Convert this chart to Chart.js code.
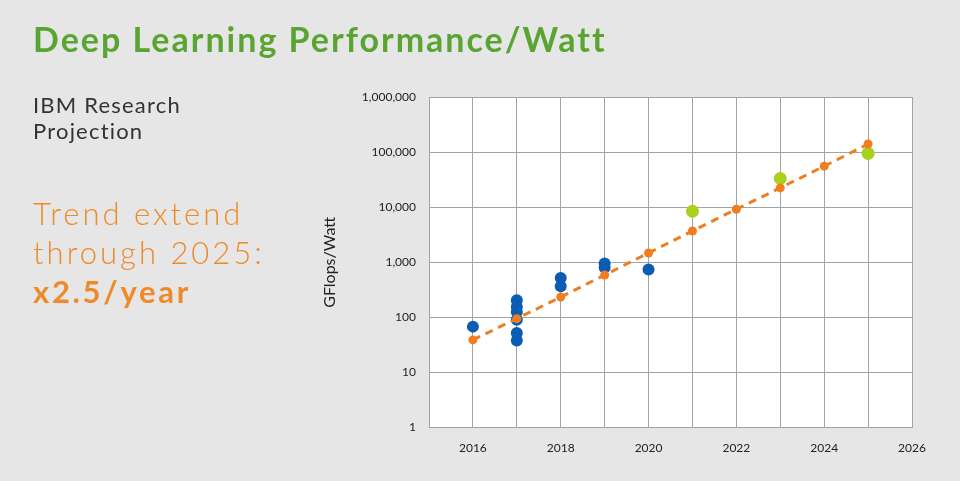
<!DOCTYPE html>
<html>
<head>
<meta charset="utf-8">
<script src="https://cdn.jsdelivr.net/npm/chart.js@4"></script>
<style>
  body { margin: 0; background: #e6e6e6; font-family: Lato, "Open Sans", sans-serif; }
  #wrap { position: relative; width: 960px; height: 481px; overflow: hidden; }
  #chartBox { position: absolute; left: 0; top: 0; width: 960px; height: 481px; }
  .txt { position: absolute; left: 33px; white-space: nowrap; }
  #title { top: 18px; font-size: 34px; font-weight: 700; color: #5aa532; letter-spacing: 2px; }
  #sub { top: 92px; font-size: 22px; line-height: 26px; color: #333; letter-spacing: 1.2px; }
  #trend { top: 194px; font-size: 31px; line-height: 39px; color: #ee8a2a; font-weight: 300; letter-spacing: 3px; }
  #trend b { font-weight: 700; letter-spacing: 2.7px; }
</style>
</head>
<body>
<div id="wrap">
  <div id="chartBox"><canvas id="perfChart"></canvas></div>
  <div class="txt" id="title">Deep Learning Performance/Watt</div>
  <div class="txt" id="sub">IBM Research<br>Projection</div>
  <div class="txt" id="trend">Trend extend<br>through 2025:<br><b>x2.5/year</b></div>
</div>
<script>
// measured chips (blue)
const blueYears = [2016, 2017, 2017, 2017, 2017, 2017, 2017, 2018, 2018, 2019, 2019, 2020];
const blueValues = [68, 204, 154, 125, 91, 52, 38, 518, 366, 947, 801, 737];

// projected trend (orange, x2.5/year)
const trendYears = [2016, 2017, 2018, 2019, 2020, 2021, 2022, 2023, 2024, 2025];
const trendValues = [39, 95, 234, 588, 1477, 3707, 9200, 22400, 55600, 140000];

// green targets
const greenYears = [2021, 2023, 2025];
const greenValues = [8450, 33200, 94700];

const yTicks = [1, 10, 100, 1000, 10000, 100000, 1000000];
const xLabelYears = [2016, 2018, 2020, 2022, 2024, 2026];

const toPoints = (xs, ys) => xs.map((x, i) => ({ x: x, y: ys[i] }));

const plotBg = {
  id: 'plotBg',
  beforeDraw: (chart) => {
    const a = chart.chartArea;
    const ctx = chart.ctx;
    ctx.save();
    ctx.fillStyle = '#ffffff';
    ctx.fillRect(a.left, a.top, a.right - a.left, a.bottom - a.top);
    ctx.restore();
  }
};

var ctx = document.getElementById('perfChart').getContext('2d');
var perfChart = new Chart(ctx, {
  type: 'scatter',
  data: {
    datasets: [
      {
        label: 'Trend',
        data: toPoints(trendYears, trendValues),
        showLine: true,
        borderColor: '#ea7f24',
        borderWidth: 3,
        borderDash: [8, 6],
        backgroundColor: '#f07d1e',
        pointBackgroundColor: '#f07d1e',
        pointBorderWidth: 0,
        pointRadius: 4.5,
        order: 0
      },
      {
        label: 'Targets',
        data: toPoints(greenYears, greenValues),
        backgroundColor: '#a8d01c',
        pointBorderWidth: 0,
        pointRadius: 6.5,
        order: 1
      },
      {
        label: 'Chips',
        data: toPoints(blueYears, blueValues),
        backgroundColor: '#0b5cb3',
        pointBorderWidth: 0,
        pointRadius: 6,
        order: 2
      }
    ]
  },
  options: {
    responsive: true,
    maintainAspectRatio: false,
    animation: false,
    layout: { padding: { left: 320, right: 48, top: 97, bottom: 13 } },
    plugins: { legend: { display: false }, tooltip: { enabled: false } },
    scales: {
      x: {
        type: 'linear',
        min: 2015,
        max: 2026,
        grid: { color: '#a3a3a3', lineWidth: 1, drawTicks: false },
        border: { color: '#a3a3a3' },
        ticks: {
          stepSize: 1,
          padding: 13,
          color: '#222',
          font: { family: 'Lato', size: 12 },
          callback: (v) => xLabelYears.includes(v) ? String(v) : ''
        }
      },
      y: {
        type: 'logarithmic',
        min: 1,
        max: 1000000,
        afterBuildTicks: (scale) => { scale.ticks = yTicks.map(v => ({ value: v })); },
        afterFit: (scale) => { scale.width = 109; },
        grid: { color: '#a3a3a3', lineWidth: 1, drawTicks: false },
        border: { color: '#a3a3a3' },
        ticks: {
          padding: 13,
          color: '#222',
          font: { family: 'Lato', size: 12 },
          callback: (v) => Number(v).toLocaleString('en-US')
        },
        title: {
          display: true,
          text: 'GFlops/Watt',
          color: '#222',
          font: { family: 'Lato', size: 16 },
          padding: { top: 0, bottom: 0 }
        }
      }
    }
  },
  plugins: [plotBg]
});
</script>
</body>
</html>
